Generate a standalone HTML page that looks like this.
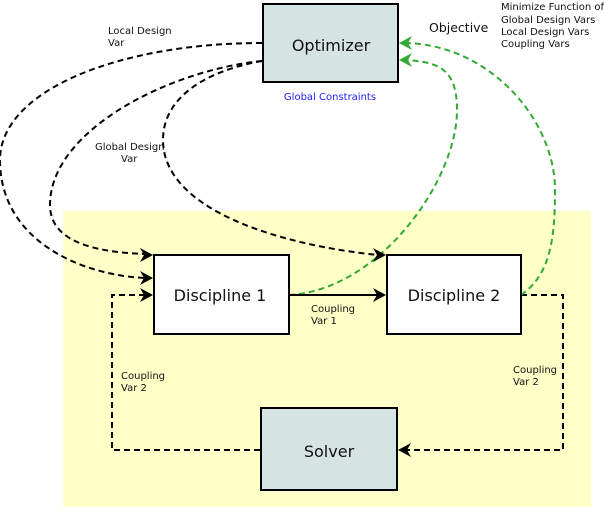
<!DOCTYPE html>
<html><head><meta charset="utf-8"><style>
html,body{margin:0;padding:0;background:#fff;}
svg{display:block;font-family:"DejaVu Sans","Liberation Sans",sans-serif;}
</style></head><body>
<svg width="604" height="512" viewBox="0 0 604 512" xmlns="http://www.w3.org/2000/svg">
<rect x="63" y="211" width="528" height="296" fill="#ffffc8"/>
<g fill="none" stroke="#000" stroke-width="2" stroke-dasharray="6,4">
<path d="M262,43 C120,43 0,90 0,160 C0,240 80,275 145,278"/>
<path d="M262,61 C170,70 50,130 50,205 C50,240 90,252 145,254"/>
<path d="M262,61 C210,70 163,95 163,140 C163,210 280,245 378,255"/>
<path d="M521,295 L563,295 L563,450 L405,450"/>
<path d="M260,450 L112,450 L112,295 L145,295"/>
</g>
<g fill="none" stroke="#33aa33" stroke-width="2" stroke-dasharray="6,4">
<path d="M289,295 C380,290 457,180 457,110 C457,70 440,62 406,60"/>
<path d="M521,295 C550,275 555,240 555,190 C555,120 490,45 406,43"/>
</g>
<line x1="289" y1="295" x2="380" y2="295" stroke="#000" stroke-width="2"/>
<g fill="#000">
<path d="M153,255 l-13,-7 l4,7 l-4,7z"/>
<path d="M153,278 l-13,-7 l4,7 l-4,7z"/>
<path d="M153,295 l-13,-7 l4,7 l-4,7z"/>
<path d="M386,255 l-13,-7 l4,7 l-4,7z"/>
<path d="M386,295 l-13,-7 l4,7 l-4,7z"/>
<path d="M398,450 l13,-7 l-4,7 l4,7z"/>
</g>
<g fill="#33aa33">
<path d="M399,43 l13,-7 l-4,7 l4,7z"/>
<path d="M399,60 l13,-7 l-4,7 l4,7z"/>
</g>
<rect x="263" y="4" width="135" height="78" fill="#d6e3e3" stroke="#000" stroke-width="2"/>
<rect x="154" y="255" width="135" height="79" fill="#fff" stroke="#000" stroke-width="2"/>
<rect x="387" y="255" width="134" height="79" fill="#fff" stroke="#000" stroke-width="2"/>
<rect x="261" y="408" width="136" height="82" fill="#d6e3e3" stroke="#000" stroke-width="2"/>
<g font-size="16" fill="#111" text-anchor="middle">
<text x="331" y="51">Optimizer</text>
<text x="220" y="301">Discipline 1</text>
<text x="454" y="301">Discipline 2</text>
<text x="329" y="457">Solver</text>
</g>
<text x="330" y="100" font-size="10" fill="#2020ff" text-anchor="middle">Global Constraints</text>
<text x="429" y="32" font-size="12.5" fill="#111">Objective</text>
<g font-size="10" fill="#111">
<text x="501" y="10">Minimize Function of:</text>
<text x="501" y="23">Global Design Vars</text>
<text x="501" y="35">Local Design Vars</text>
<text x="501" y="47">Coupling Vars</text>
<text x="108" y="34">Local Design</text>
<text x="108" y="46">Var</text>
<text x="95" y="150">Global Design</text>
<text x="121" y="162">Var</text>
<text x="311" y="312">Coupling</text>
<text x="311" y="324">Var 1</text>
<text x="121" y="379">Coupling</text>
<text x="121" y="391">Var 2</text>
<text x="513" y="373">Coupling</text>
<text x="513" y="385">Var 2</text>
</g>
</svg>
</body></html>
